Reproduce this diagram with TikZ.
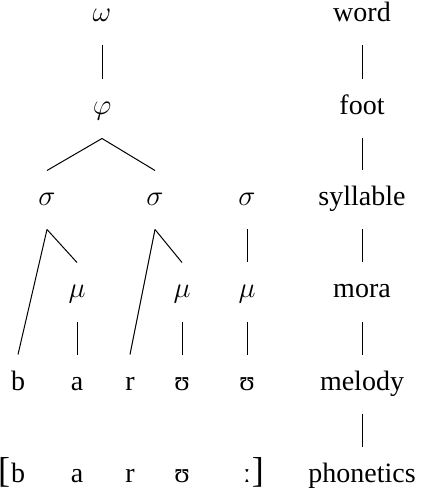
\documentclass[tikz,border=0pt]{standalone}
\usepackage{fontspec}
\setmainfont{Liberation Serif}
\tikzset{every picture/.style={line width=0.5pt}}
\tikzset{
	seg/.style={inner sep=0pt, text height=6pt, text depth=0pt, minimum height=29pt, font=\fontsize{14}{16}\selectfont},
	brk/.style={seg, font=\fontsize{18}{20}\selectfont}}

\begin{document}
\begin{tikzpicture}[x=0.5pt,y=0.5pt,yscale=-1,xscale=1]
	\useasboundingbox (0,0) rectangle (420,490);

	% Text Node
	\draw (102,16) node [seg] (w) {$\omega$};
	% Text Node
	\draw (102,109) node [seg] (f) {$\varphi$};
	% Text Node
	\draw (47,200) node [seg] (s1) {$\sigma$};
	% Text Node
	\draw (155,200) node [seg] (s2) {$\sigma$};
	% Text Node
	\draw (247,200) node [seg] (s3) {$\sigma$};
	% Text Node
	\draw (77,292) node [seg] (m1) {$\mu$};
	% Text Node
	\draw (182,292) node [seg] (m2) {$\mu$};
	% Text Node
	\draw (247,292) node [seg] (m3) {$\mu$};
	% Text Node
	\draw (18,384) node [seg] (b) {b};
	% Text Node
	\draw (77,384) node [seg] (a) {a};
	% Text Node
	\draw (130,384) node [seg] (r) {r};
	% Text Node
	\draw (182,384) node [seg] (u1) {ʊ};
	% Text Node
	\draw (247,384) node [seg] (u2) {ʊ};
	% Text Node
	\draw (18,476) node [seg] (pb) {b};
	\draw (pb.west) node [brk, anchor=east] (lbr) {[};
	% Text Node
	\draw (77,476) node [seg] (pa) {a};
	% Text Node
	\draw (130,476) node [seg] (pr) {r};
	% Text Node
	\draw (182,476) node [seg] (pu) {ʊ};
	% Text Node
	\draw (247,476) node [seg] (plen) {ː};
	\draw (plen.east) node [brk, anchor=west] (rbr) {]};

	% Text Node
	\draw (362,16) node [seg] (lword) {word};
	% Text Node
	\draw (362,109) node [seg] (lfoot) {foot};
	% Text Node
	\draw (362,200) node [seg] (lsyl) {syllable};
	% Text Node
	\draw (362,292) node [seg] (lmora) {mora};
	% Text Node
	\draw (362,384) node [seg] (lmel) {melody};
	% Text Node
	\draw (362,476) node [seg] (lphon) {phonetics};

	%Straight Lines
	\draw (w.south) -- (f.north);
	\draw (f.south) -- (s1.north);
	\draw (f.south) -- (s2.north);
	\draw (s1.south) -- (b.north);
	\draw (s1.south) -- (m1.north);
	\draw (s2.south) -- (r.north);
	\draw (s2.south) -- (m2.north);
	\draw (s3.south) -- (m3.north);
	\draw (m1.south) -- (a.north);
	\draw (m2.south) -- (u1.north);
	\draw (m3.south) -- (u2.north);

	%Straight Lines
	\draw (lword.south) -- (lfoot.north);
	\draw (lfoot.south) -- (lsyl.north);
	\draw (lsyl.south) -- (lmora.north);
	\draw (lmora.south) -- (lmel.north);
	\draw (lmel.south) -- (lphon.north);

\end{tikzpicture}
\end{document}
